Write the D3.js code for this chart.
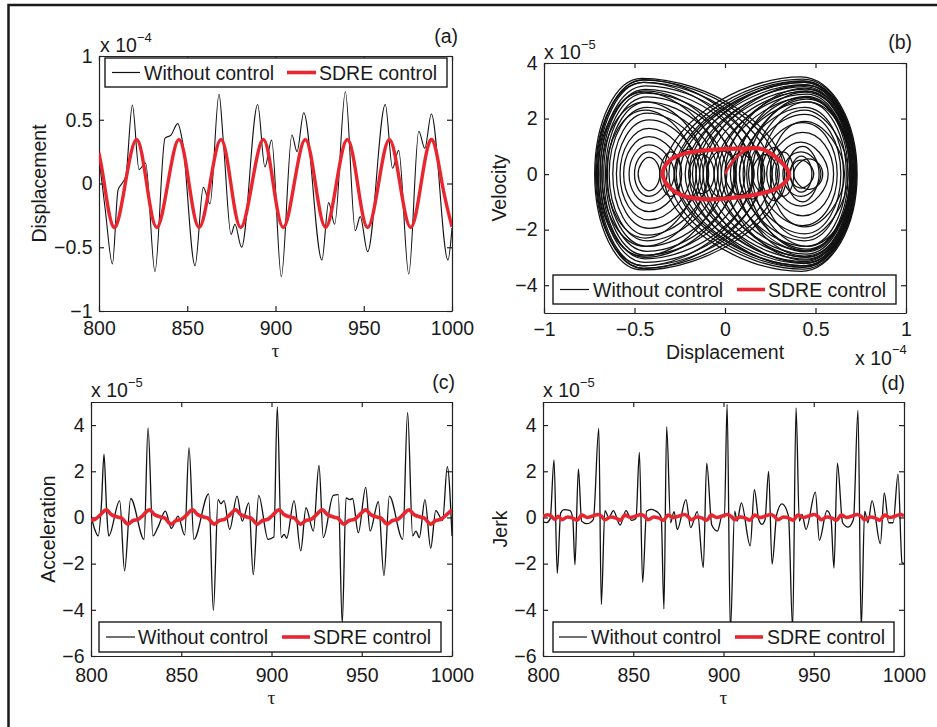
<!DOCTYPE html>
<html>
<head>
<meta charset="utf-8">
<script src="https://cdn.jsdelivr.net/npm/d3@7"></script>
<style>
  body { margin: 0; background: #fff; }
  svg { display: block; }
  text { font-family: "Liberation Sans", Arial, Helvetica, sans-serif; fill: #1a1a1a; }
  .axis text { font-size: 19.5px; font-family: "Liberation Sans", Arial, sans-serif; }
  .axis path, .axis line { stroke: #222; stroke-width: 1.2px; }
</style>
</head>
<body>
<svg id="fig" width="937" height="727"></svg>
<script>
// ---- tick values and labels ----
const tauTicks = [800, 850, 900, 950, 1000];
const dispTicks = [-1, -0.5, 0, 0.5, 1];
const phaseXTicks = [-1, -0.5, 0, 0.5, 1];
const phaseYTicks = [-4, -2, 0, 2, 4];
const derivTicks = [-6, -4, -2, 0, 2, 4];
const seriesNames = ["Without control", "SDRE control"];

// ---- (a) displacement, units of 1e-4 ----
const dispFree = [
  [800,0.2],[803.5,-0.2],[807.6,-0.63],[810.8,-0.05],[813,0.0],[815.2,0.06],[818.9,0.616],
  [822.7,0.11],[826.4,0.16],[831.7,-0.69],[837.4,0.355],[840.8,0.38],[844.6,0.47],[847.3,0.33],
  [854.4,-0.645],[859.1,-0.03],[862.9,-0.16],[868,0.70],[870.5,0.32],[874.8,-0.40],[877,-0.32],
  [880.8,-0.5],[889.9,0.62],[894,0.13],[897.8,0.34],[903.3,-0.73],[909.3,0.38],[912.2,0.25],
  [916,0.555],[926.3,-0.6],[930.1,-0.15],[933.5,-0.32],[939.6,0.72],[945.2,-0.37],[948,-0.26],
  [952.2,-0.535],[962.2,0.62],[966.3,0.12],[969.8,0.26],[975.5,-0.71],[981.2,0.41],[984.6,0.276],
  [988.3,0.545],[997.7,-0.6],[1000,-0.35]
];
const dispSdre = [
  [800,0.24],[803,0],[808.5,-0.345],[814.9,0],[821.3,0.345],[827,0],[832.7,-0.345],[839,0],
  [845.3,0.345],[851,0],[856.7,-0.345],[862.9,0],[869.1,0.345],[874.7,0],[880.3,-0.345],[886.7,0],
  [893.1,0.345],[898.7,0],[904.4,-0.345],[910.6,0],[916.9,0.345],[922.6,0],[928.4,-0.345],[934.5,0],
  [940.7,0.345],[946.5,0],[952.2,-0.345],[958.4,0],[964.5,0.345],[970.5,0],[976.6,-0.345],[982.5,0],
  [988.5,0.345],[994.4,0],[1000,-0.34]
];

// ---- (b) phase portrait: closed loops [left turn, x at peak, right turn, peak velocity] ----
// displacement in 1e-4, velocity in 1e-5
const phaseFreeLoops = [
  // right-well orbits
  [-0.34,0.42,0.73,3.5],[-0.31,0.43,0.725,3.42],[-0.28,0.43,0.72,3.36],[-0.25,0.44,0.715,3.3],
  [-0.22,0.44,0.71,3.22],[-0.18,0.44,0.705,3.15],[-0.14,0.45,0.70,3.06],[-0.10,0.45,0.695,2.98],
  [-0.06,0.45,0.69,2.88],[-0.02,0.45,0.68,2.76],[0.03,0.45,0.67,2.6],[0.08,0.44,0.655,2.4],
  [0.13,0.44,0.64,2.15],[0.18,0.43,0.62,1.85],[0.23,0.43,0.60,1.5],[0.28,0.42,0.57,1.15],
  [0.32,0.42,0.53,0.8],[0.36,0.42,0.49,0.5],[-0.27,0.44,0.70,3.3],[-0.16,0.45,0.71,3.2],
  [-0.04,0.45,0.70,3.0],[0.05,0.45,0.69,2.8],[0.10,0.45,0.70,2.7],[0.0,0.44,0.72,3.1],
  [-0.12,0.44,0.72,3.2],[0.06,0.44,0.715,2.95],[0.15,0.45,0.70,2.6],[0.2,0.44,0.68,2.3],
  [0.25,0.44,0.66,1.9],[-0.2,0.43,0.725,3.35],[0.12,0.44,0.69,2.75],
  // left-well orbits
  [-0.72,-0.46,0.33,3.45],[-0.71,-0.45,0.30,3.38],[-0.70,-0.45,0.26,3.3],[-0.69,-0.44,0.21,3.18],
  [-0.68,-0.44,0.16,3.05],[-0.67,-0.44,0.11,2.92],[-0.66,-0.43,0.06,2.78],[-0.65,-0.43,0.01,2.6],
  [-0.64,-0.43,-0.04,2.4],[-0.62,-0.43,-0.09,2.2],[-0.60,-0.42,-0.14,1.95],[-0.58,-0.42,-0.19,1.65],
  [-0.56,-0.42,-0.24,1.35],[-0.53,-0.42,-0.28,1.05],[-0.50,-0.42,-0.32,0.8],[-0.48,-0.42,-0.36,0.6],
  [-0.705,-0.45,0.2,3.4],[-0.69,-0.44,0.05,3.0],[-0.715,-0.45,0.15,3.3],[-0.70,-0.45,-0.02,2.95],
  [-0.68,-0.44,-0.1,2.6],[-0.655,-0.44,-0.16,2.3],
  // small loops around the middle
  [-0.36,-0.3,-0.24,0.8],[-0.28,-0.2,-0.12,0.9],[-0.2,-0.13,-0.06,0.7],[-0.1,-0.02,0.06,0.85],
  [0.0,0.08,0.16,0.75],[0.08,0.15,0.22,0.9],[0.15,0.22,0.29,0.7],[0.2,0.27,0.34,0.95],
  [0.26,0.32,0.38,0.8],[0.36,0.42,0.48,0.65],[0.34,0.43,0.52,1.0],[0.38,0.46,0.54,0.55]
];
const phaseSdreStart = [[0,0],[0.03,0.35],[0.07,0.65],[0.12,0.88],[0.18,0.92]];
const phaseSdreCycle = [
  [-0.344,0],[-0.304,0.5],[-0.21,0.76],[-0.083,0.87],[0.12,0.93],[0.21,0.89],[0.3,0.5],
  [0.355,0],[0.3,-0.47],[0.21,-0.68],[0.065,-0.84],[-0.083,-0.91],[-0.21,-0.82],[-0.3,-0.52]
];

// ---- (c) acceleration, units of 1e-5 ----
const accFree = [
  [800,0.1],[802,-0.5],[804,-0.8],[805.8,0.6],[807.2,2.74],[808.6,0.4],[809.8,-0.8],[815.9,0.73],
  [818.6,-2.31],[822,0.82],[829.4,-0.95],[831.6,3.88],[834.3,-0.8],[837.1,-0.42],[841.2,0.27],
  [844.5,-0.47],[848.2,0.06],[851.9,-0.76],[854.3,3.02],[857,-0.95],[865.2,1.02],[867.8,-4.03],
  [870.4,0.77],[872,0.59],[873.7,0.73],[876.8,-0.52],[880.9,0.92],[883.8,-0.16],[887.4,0.63],
  [889.9,-2.48],[892.9,0.96],[898.1,-0.95],[901.3,-0.85],[903.2,4.79],[905.4,-0.87],[907,-0.73],
  [908.4,-0.9],[912.5,0.73],[916.2,-1.45],[919.1,0.42],[923.2,-0.59],[926.3,2.25],[928.7,-0.87],
  [934.2,0.96],[937,0.99],[939.2,-4.6],[941.3,0.85],[943.4,0.77],[944.9,0.82],[948.1,-0.66],
  [952.2,1.3],[954.6,-0.59],[959.2,0.68],[962.3,-2.52],[965.3,0.92],[972.7,-0.95],[975.4,4.55],
  [978.2,-0.8],[980,-0.59],[981.9,-0.87],[985,0.77],[988.2,-1.33],[991,0.3],[994.8,-0.13],
  [997.4,2.2],[1000,-0.8]
];
const accSdre = [
  [800,-0.12],[802,-0.09],[804.5,0.06],[808.5,0.33],[811.2,0.13],[815,0.01],[817,-0.03],[820.5,-0.29],
  [823.3,-0.13],[826,-0.09],[828.4,0.06],[832.4,0.33],[835.1,0.13],[838.9,0.01],[840.9,-0.03],[844.4,-0.29],
  [847.2,-0.13],[849.9,-0.09],[852.3,0.06],[856.3,0.33],[859,0.13],[862.8,0.01],[864.8,-0.03],[868.3,-0.29],
  [871.1,-0.13],[873.8,-0.09],[876.2,0.06],[880.2,0.33],[882.9,0.13],[886.7,0.01],[888.7,-0.03],[892.2,-0.29],
  [895,-0.13],[897.7,-0.09],[900.1,0.06],[904.2,0.33],[906.9,0.13],[910.7,0.01],[912.7,-0.03],[916.2,-0.29],
  [919,-0.13],[921.7,-0.09],[924.1,0.06],[928.2,0.33],[930.9,0.13],[934.7,0.01],[936.7,-0.03],[940.2,-0.29],
  [943,-0.13],[945.7,-0.09],[948.1,0.06],[952.2,0.33],[954.9,0.13],[958.7,0.01],[960.7,-0.03],[964.2,-0.29],
  [967,-0.13],[969.7,-0.09],[972.1,0.06],[976.2,0.33],[978.9,0.13],[982.7,0.01],[984.7,-0.03],[988.2,-0.29],
  [991,-0.13],[993.7,-0.09],[996.1,0.06],[1000,0.33]
];

// ---- (d) jerk, units of 1e-5 ----
const jerkFree = [
  [800,-0.2],[802,-0.22],[804,-0.05],[806.1,2.49],[807.9,-2.42],[809.8,0.2],[811.6,0.34],[815,0.3],
  [816.5,-0.05],[817.7,-2.05],[819.6,2.1],[821.4,-0.16],[824.2,-0.27],[827.9,-0.09],[830.9,3.86],
  [832.3,-3.77],[834.3,0.3],[836.5,-0.01],[839,0.3],[842.7,-0.33],[846,0.3],[849.1,-0.13],[851.5,-0.05],
  [853.4,2.82],[855.2,-2.81],[857.4,0.27],[860,0.35],[862,0.3],[863.9,0.2],[865.5,0.0],[867,-3.96],
  [868.5,3.93],[870.7,-0.23],[872.6,0.25],[874.4,-0.52],[879.2,0.77],[881.8,-0.44],[885.5,0.25],
  [888.8,-2.17],[890.7,2.35],[893.5,-0.33],[896.6,-0.59],[899.4,0.1],[900.5,0.0],[902,4.9],[903.8,-4.9],
  [906.2,0.27],[907.5,-0.16],[909.9,0.63],[914.8,-1.23],[917.1,1.2],[919.5,-0.09],[921.3,-0.3],
  [923,-0.1],[925,1.99],[926.9,-2.02],[929.5,0.13],[932.4,0.59],[936,0.06],[938.3,-4.8],[940.2,4.74],
  [942,-0.16],[943.5,0.13],[945.7,-0.52],[950.9,1.1],[953.1,-0.99],[957.3,0.3],[959.5,0.0],
  [961.2,-2.19],[963.1,2.35],[966,-0.23],[969,-0.42],[972,-0.09],[974.5,4.64],[976.3,-4.8],
  [978.2,0.27],[980,-0.23],[982.3,0.73],[986.9,-1.13],[989.1,1.06],[991.5,-0.23],[994,-0.23],
  [996.7,1.88],[998.9,-1.95],[1000,-2.0]
];
const jerkSdre = [
  [800,0.04],[802.5,0.12],[804.5,0.06],[806.5,-0.08],[808.5,0.05],[810.5,-0.1],[813.5,0.02],[816.5,-0.03],
  [819,-0.12],[821.5,0.1],[824.5,0.0],[827.5,0.06],[830.5,0.13],[832.4,0.05],[834.4,-0.1],[837.4,0.02],
  [840.4,-0.03],[842.9,-0.12],[845.4,0.1],[848.4,0.0],[851.4,0.06],[854.4,0.13],[856.3,0.05],[858.3,-0.1],
  [861.3,0.02],[864.3,-0.03],[866.8,-0.12],[869.3,0.1],[872.3,0.0],[875.3,0.06],[878.3,0.13],[880.2,0.05],
  [882.2,-0.1],[885.2,0.02],[888.2,-0.03],[890.7,-0.12],[893.2,0.1],[896.2,0.0],[899.2,0.06],[902.2,0.13],
  [904.2,0.05],[906.2,-0.1],[909.2,0.02],[912.2,-0.03],[914.7,-0.12],[917.2,0.1],[920.2,0.0],[923.2,0.06],
  [926.2,0.13],[928.2,0.05],[930.2,-0.1],[933.2,0.02],[936.2,-0.03],[938.7,-0.12],[941.2,0.1],[944.2,0.0],
  [947.2,0.06],[950.2,0.13],[952.2,0.05],[954.2,-0.1],[957.2,0.02],[960.2,-0.03],[962.7,-0.12],[965.2,0.1],
  [968.2,0.0],[971.2,0.06],[974.2,0.13],[976.2,0.05],[978.2,-0.1],[981.2,0.02],[984.2,-0.03],[986.7,-0.12],
  [989.2,0.1],[992.2,0.0],[995.2,0.06],[998.2,0.13],[1000,0.06]
];

// ---- drawing ----
const RED = "#e8262f";
const svg = d3.select("#fig");

// outer frame of the figure
svg.append("rect").attr("x", 8.5).attr("y", 5).attr("width", 1000).attr("height", 1000)
  .attr("fill", "none").attr("stroke", "#1a1a1a").attr("stroke-width", 2.5);

let clipId = 0;
function panel(o) {
  const [L, T, R, B] = o.box;
  const sx = d3.scaleLinear().domain(o.xd).range([L, R]);
  const sy = d3.scaleLinear().domain(o.yd).range([B, T]);
  const fmt = d3.format("");
  const g = svg.append("g");

  g.append("rect").attr("x", L).attr("y", T).attr("width", R - L).attr("height", B - T).attr("fill", "#fff");

  const ax = (gen, tr) => g.append("g").attr("class", "axis").attr("color", "#1a1a1a")
    .attr("transform", tr).call(gen);
  ax(d3.axisBottom(sx).tickValues(o.xt).tickSizeInner(-5).tickSizeOuter(0).tickPadding(o.xpad).tickFormat(fmt), `translate(0,${B})`);
  ax(d3.axisTop(sx).tickValues(o.xt).tickSizeInner(-5).tickSizeOuter(0).tickFormat(() => ""), `translate(0,${T})`);
  ax(d3.axisLeft(sy).tickValues(o.yt).tickSizeInner(-5).tickSizeOuter(0).tickPadding(6.5).tickFormat(fmt), `translate(${L},0)`);
  ax(d3.axisRight(sy).tickValues(o.yt).tickSizeInner(-5).tickSizeOuter(0).tickFormat(() => ""), `translate(${R},0)`);

  // axis titles
  g.append("text").attr("x", (L + R) / 2).attr("y", o.xlabelY).attr("text-anchor", "middle")
    .style("font-size", "19.5px")
    .style("font-family", o.xlabelTau ? "'Liberation Serif', 'DejaVu Serif', serif" : null)
    .text(o.xlabel);
  g.append("text").attr("transform", `translate(${o.ylabelX},${(T + B) / 2}) rotate(-90)`)
    .attr("text-anchor", "middle").style("font-size", "19.5px").text(o.ylabel);

  // exponent multiplier
  const m = o.mult;
  g.append("text").attr("x", m[0]).attr("y", m[1]).style("font-size", "19.5px").text("x 10");
  g.append("text").attr("x", m[0] + 37).attr("y", m[1] - 10).style("font-size", "13px").text(m[2]);

  // panel tag
  g.append("text").attr("x", o.tag[0]).attr("y", o.tag[1]).attr("text-anchor", "end")
    .style("font-size", "19.5px").text(o.tag[2]);

  const id = "clip" + (clipId++);
  svg.append("clipPath").attr("id", id).append("rect")
    .attr("x", L).attr("y", T).attr("width", R - L).attr("height", B - T);
  const plot = svg.append("g").attr("clip-path", `url(#${id})`);
  return { sx, sy, plot, L, T, R, B };
}

function legend(box, samples) {
  const [x0, y0, x1, y1] = box;
  const g = svg.append("g");
  const cy = (y0 + y1) / 2;
  g.append("rect").attr("x", x0).attr("y", y0).attr("width", x1 - x0).attr("height", y1 - y0)
    .attr("fill", "#fff").attr("stroke", "#1a1a1a").attr("stroke-width", 1.4);
  samples.forEach((s, i) => {
    g.append("line").attr("x1", s[0]).attr("x2", s[1]).attr("y1", cy).attr("y2", cy)
      .attr("stroke", i === 0 ? "#111" : RED).attr("stroke-width", i === 0 ? 1.2 : 3.6);
    g.append("text").attr("x", s[2]).attr("y", cy + 7).style("font-size", "19.5px").text(seriesNames[i]);
  });
}

function series(p, data, color, width, curve) {
  const line = d3.line().x(d => p.sx(d[0])).y(d => p.sy(d[1])).curve(curve);
  p.plot.append("path").datum(data).attr("d", line).attr("fill", "none")
    .attr("stroke", color).attr("stroke-width", width).attr("stroke-linejoin", "round");
}

// (a) displacement time history
const pa = panel({ box: [99, 56, 452, 311], xd: [800, 1000], yd: [-1, 1], xt: tauTicks, yt: dispTicks,
  xpad: 10, xlabel: "τ", xlabelTau: true, xlabelY: 357, ylabel: "Displacement", ylabelX: 46,
  mult: [100, 51.5, "−4"], tag: [458, 43, "(a)"] });
series(pa, dispFree, "#111", 1.1, d3.curveMonotoneX);
series(pa, dispSdre, RED, 3.4, d3.curveNatural);
legend([105, 58, 447, 87], [[112, 140, 144], [287, 316, 319]]);

// (b) phase portrait
const pb = panel({ box: [544, 63, 906, 313], xd: [-1, 1], yd: [-5, 4], xt: phaseXTicks, yt: phaseYTicks,
  xpad: 9, xlabel: "Displacement", xlabelY: 358.5, ylabel: "Velocity", ylabelX: 506,
  mult: [544, 58.5, "−5"], tag: [912, 49, "(b)"] });
function loopPath(row) {
  const [xl, xp, xr, h] = row;
  const Lx = pb.sx(xl), Px = pb.sx(xp), Rx = pb.sx(xr);
  const Ty = pb.sy(h), By = pb.sy(-h), Zy = pb.sy(0);
  // the longer (inner) side of a lobe is drawn a little more pointed
  const longRight = xr - xp > xp - xl;
  const kl = longRight ? 0.55 : 0.47;
  const kr = longRight ? 0.47 : 0.55;
  const p = d3.path();
  p.moveTo(Lx, Zy);
  p.bezierCurveTo(Lx, Zy + (Ty - Zy) * kl, Px - (Px - Lx) * kl, Ty, Px, Ty);
  p.bezierCurveTo(Px + (Rx - Px) * kr, Ty, Rx, Zy + (Ty - Zy) * kr, Rx, Zy);
  p.bezierCurveTo(Rx, Zy + (By - Zy) * kr, Px + (Rx - Px) * kr, By, Px, By);
  p.bezierCurveTo(Px - (Px - Lx) * kl, By, Lx, Zy + (By - Zy) * kl, Lx, Zy);
  p.closePath();
  return p.toString();
}
pb.plot.selectAll("path.orbit").data(phaseFreeLoops).join("path").attr("class", "orbit")
  .attr("d", loopPath).attr("fill", "none").attr("stroke", "#111").attr("stroke-width", 1.25);
const phaseLine = d3.line().x(d => pb.sx(d[0])).y(d => pb.sy(d[1]));
pb.plot.append("path").datum(phaseSdreCycle).attr("d", phaseLine.curve(d3.curveCardinalClosed))
  .attr("fill", "none").attr("stroke", RED).attr("stroke-width", 4.2);
pb.plot.append("path").datum(phaseSdreStart).attr("d", phaseLine.curve(d3.curveNatural))
  .attr("fill", "none").attr("stroke", RED).attr("stroke-width", 2.6);
legend([553, 275, 896, 304], [[560, 589, 593], [737, 765, 768]]);
svg.append("text").attr("x", 855).attr("y", 365).style("font-size", "19.5px").text("x 10");
svg.append("text").attr("x", 892).attr("y", 354).style("font-size", "13px").text("−4");

// (c) acceleration time history
const pc = panel({ box: [91, 402, 452, 656], xd: [800, 1000], yd: [-6, 5], xt: tauTicks, yt: derivTicks,
  xpad: 12, xlabel: "τ", xlabelTau: true, xlabelY: 704, ylabel: "Acceleration", ylabelX: 54.5,
  mult: [91, 396.5, "−5"], tag: [455, 389, "(c)"] });
series(pc, accFree, "#111", 1.3, d3.curveMonotoneX);
series(pc, accSdre, RED, 3.6, d3.curveMonotoneX);
legend([99, 622, 441, 652], [[106, 135, 138], [282, 310, 313]]);

// (d) jerk time history
const pd = panel({ box: [543, 402, 904, 656], xd: [800, 1000], yd: [-6, 5], xt: tauTicks, yt: derivTicks,
  xpad: 12, xlabel: "τ", xlabelTau: true, xlabelY: 704, ylabel: "Jerk", ylabelX: 506.5,
  mult: [543, 396.5, "−5"], tag: [905, 390, "(d)"] });
series(pd, jerkFree, "#111", 1.3, d3.curveMonotoneX);
series(pd, jerkSdre, RED, 3.6, d3.curveMonotoneX);
legend([553, 622, 894, 652], [[559, 587, 591], [735, 763, 767]]);
</script>
</body>
</html>
